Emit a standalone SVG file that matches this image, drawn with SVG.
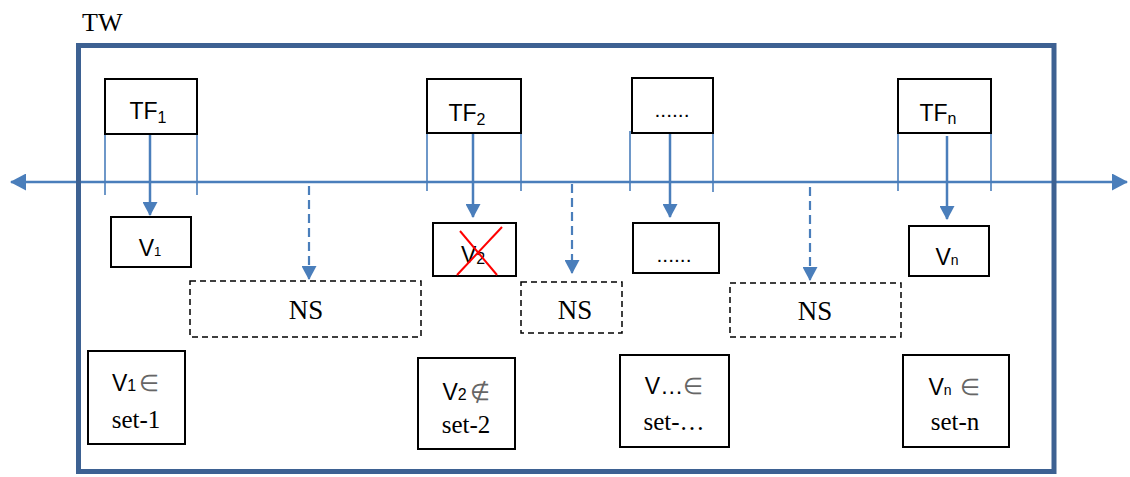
<svg xmlns="http://www.w3.org/2000/svg" width="1130" height="477" viewBox="0 0 1130 477">
<style>
.box{fill:#fff;stroke:#000;stroke-width:2}
.dbox{fill:#fff;stroke:#000;stroke-width:1.5;stroke-dasharray:6 4}
.sans{font-family:"Liberation Sans",Arial,sans-serif;fill:#000}
.serif{font-family:"Liberation Serif","Times New Roman",serif;fill:#000}
.tick{stroke:#4a7ebb;stroke-width:1.6}
.arr{stroke:#4a7ebb;stroke-width:2.5;fill:none}
.darr{stroke:#4a7ebb;stroke-width:2.2;fill:none;stroke-dasharray:9 5}
.gray{fill:#666}
</style>
<defs>
<marker id="ah" markerUnits="userSpaceOnUse" markerWidth="14" markerHeight="15" refX="13" refY="7.5" orient="auto">
<path d="M0,0 L14,7.5 L0,15 z" fill="#4a7ebb"/>
</marker>
<marker id="ahl" markerUnits="userSpaceOnUse" markerWidth="16" markerHeight="17" refX="15" refY="8.5" orient="auto-start-reverse">
<path d="M0,0 L16,8.5 L0,17 z" fill="#4a7ebb"/>
</marker>
</defs>

<text class="serif" x="82" y="31" font-size="26">TW</text>

<g id="connectors">
<line class="arr" x1="11" y1="182" x2="1127" y2="182" marker-start="url(#ahl)" marker-end="url(#ahl)"/>
<line class="tick" x1="105" y1="134" x2="105" y2="195"/>
<line class="tick" x1="197" y1="134" x2="197" y2="195"/>
<line class="tick" x1="427" y1="133" x2="427" y2="191"/>
<line class="tick" x1="521" y1="133" x2="521" y2="191"/>
<line class="tick" x1="630" y1="131" x2="630" y2="191"/>
<line class="tick" x1="713" y1="133" x2="713" y2="192"/>
<line class="tick" x1="898" y1="131" x2="898" y2="191"/>
<line class="tick" x1="991" y1="131" x2="991" y2="191"/>
<line class="arr" x1="150" y1="134" x2="150" y2="215" marker-end="url(#ah)"/>
<line class="arr" x1="473" y1="133" x2="473" y2="217" marker-end="url(#ah)"/>
<line class="arr" x1="670" y1="133" x2="670" y2="217" marker-end="url(#ah)"/>
<line class="arr" x1="947" y1="136" x2="947" y2="219" marker-end="url(#ah)"/>
<line class="darr" x1="309" y1="186" x2="309" y2="279" marker-end="url(#ah)"/>
<line class="darr" x1="572" y1="184" x2="572" y2="273" marker-end="url(#ah)"/>
<line class="darr" x1="810" y1="187" x2="810" y2="280" marker-end="url(#ah)"/>
</g>

<g id="tw">
<rect x="78.5" y="45.5" width="975.5" height="426" fill="none" stroke="#3d6192" stroke-width="5"/>
</g>

<g id="tf1">
<rect class="box" x="105" y="79" width="92" height="55"/>
<text class="sans" x="148" y="119" text-anchor="middle" font-size="23">TF<tspan font-size="16" dy="4">1</tspan></text>
</g>
<g id="tf2">
<rect class="box" x="427" y="79" width="94" height="54"/>
<text class="sans" x="467" y="121" text-anchor="middle" font-size="23">TF<tspan font-size="16" dy="4">2</tspan></text>
</g>
<g id="tfdots">
<rect class="box" x="632" y="78" width="81" height="55"/>
<text class="sans" x="672" y="117" text-anchor="middle" font-size="21">......</text>
</g>
<g id="tfn">
<rect class="box" x="898" y="79" width="93" height="54"/>
<text class="sans" x="938" y="121" text-anchor="middle" font-size="23">TF<tspan font-size="16" dy="3">n</tspan></text>
</g>

<g id="v1">
<rect class="box" x="111" y="217" width="80" height="50"/>
<text class="sans" x="150" y="256" text-anchor="middle" font-size="23">V<tspan font-size="13">1</tspan></text>
</g>
<g id="v2">
<rect class="box" x="433" y="223" width="83" height="53"/>
<text class="sans" x="473" y="263" text-anchor="middle" font-size="23">V<tspan font-size="16" dy="1">2</tspan></text>
<line x1="460" y1="231" x2="497" y2="275" stroke="#f00" stroke-width="2"/>
<line x1="502" y1="227" x2="457" y2="275" stroke="#f00" stroke-width="2"/>
</g>
<g id="vdots">
<rect class="box" x="633" y="223" width="86" height="50"/>
<text class="sans" x="674" y="262" text-anchor="middle" font-size="21">......</text>
</g>
<g id="vn">
<rect class="box" x="909" y="226" width="80" height="50"/>
<text class="sans" x="947" y="265" text-anchor="middle" font-size="23">V<tspan font-size="14">n</tspan></text>
</g>

<g id="ns1">
<rect class="dbox" x="190" y="281" width="231" height="56"/>
<text class="serif" x="306" y="319" text-anchor="middle" font-size="27">NS</text>
</g>
<g id="ns2">
<rect class="dbox" x="521" y="282" width="101" height="51"/>
<text class="serif" x="575" y="319" text-anchor="middle" font-size="27">NS</text>
</g>
<g id="ns3">
<rect class="dbox" x="730" y="283" width="171" height="54"/>
<text class="serif" x="815" y="320" text-anchor="middle" font-size="27">NS</text>
</g>

<g id="set1">
<rect class="box" x="88" y="351" width="97" height="93"/>
<text class="sans" x="135.5" y="391" text-anchor="middle" font-size="23">V<tspan font-size="16">1</tspan><tspan class="gray" dx="3">∈</tspan></text>
<text class="serif" x="136" y="428" text-anchor="middle" font-size="25">set-1</text>
</g>
<g id="set2">
<rect class="box" x="418" y="358" width="97" height="91"/>
<text class="sans" x="466" y="400" text-anchor="middle" font-size="23">V<tspan font-size="16">2</tspan><tspan class="gray" dx="3">∉</tspan></text>
<text class="serif" x="466" y="433" text-anchor="middle" font-size="25">set-2</text>
</g>
<g id="setdots">
<rect class="box" x="620" y="355" width="109" height="92"/>
<text class="sans" x="674" y="394" text-anchor="middle" font-size="23">V…<tspan class="gray">∈</tspan></text>
<text class="serif" x="674" y="430" text-anchor="middle" font-size="25">set-…</text>
</g>
<g id="setn">
<rect class="box" x="903" y="355" width="106" height="92"/>
<text class="sans" x="954" y="395" text-anchor="middle" font-size="23">V<tspan font-size="14">n</tspan><tspan class="gray" dx="8">∈</tspan></text>
<text class="serif" x="955" y="430" text-anchor="middle" font-size="25">set-n</text>
</g>
</svg>
